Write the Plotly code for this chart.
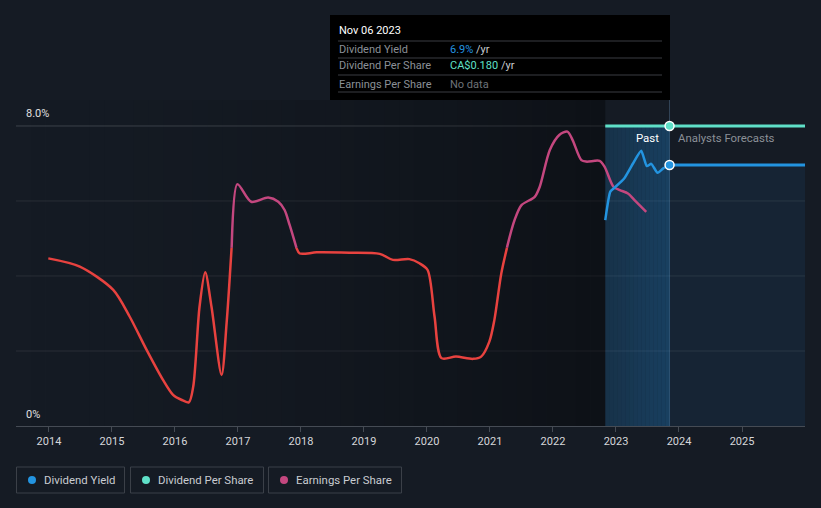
import plotly.graph_objects as go

# ---------------- data ----------------
years = [2014, 2015, 2016, 2017, 2018, 2019, 2020, 2021, 2022, 2023, 2024, 2025]
year_labels = [str(y) for y in years]

eps_x = [2013.99, 2014.49, 2015.02, 2015.28, 2015.55, 2015.81, 2015.97, 2016.10, 2016.22, 2016.29,
         2016.39, 2016.48, 2016.58, 2016.74, 2016.82, 2016.90, 2016.99, 2017.21, 2017.48, 2017.64,
         2017.74, 2017.82, 2017.93, 2017.98, 2018.25, 2018.77, 2019.25, 2019.46, 2019.72, 2019.88,
         2020.01, 2020.12, 2020.23, 2020.46, 2020.73, 2020.86, 2020.99, 2021.07, 2021.18, 2021.28,
         2021.39, 2021.50, 2021.71, 2021.79, 2021.95, 2022.10, 2022.23, 2022.31, 2022.45, 2022.53,
         2022.74, 2022.82, 2022.96, 2023.06, 2023.19, 2023.29, 2023.48]
eps_y = [4.47, 4.25, 3.63, 2.92, 2.03, 1.23, 0.83, 0.70, 0.63, 1.05,
         3.18, 4.10, 3.18, 1.36, 2.75, 4.78, 6.45, 5.98, 6.09, 5.98,
         5.76, 5.36, 4.74, 4.60, 4.63, 4.62, 4.59, 4.43, 4.45, 4.34,
         4.16, 2.92, 1.81, 1.85, 1.79, 1.85, 2.25, 2.83, 4.07, 4.83,
         5.49, 5.89, 6.11, 6.38, 7.36, 7.76, 7.85, 7.63, 7.09, 7.05,
         7.07, 6.91, 6.38, 6.29, 6.20, 6.03, 5.71]

div_x = [2022.83, 2022.91, 2022.98, 2023.13, 2023.27, 2023.40, 2023.49, 2023.56, 2023.66, 2023.75, 2023.85]
div_y = [5.49, 6.25, 6.36, 6.60, 7.00, 7.34, 6.93, 6.99, 6.75, 6.87, 6.96]

fc_x = [2023.85, 2026.0]
fc_y = [6.96, 6.96]

dps_x = [2022.83, 2023.85, 2026.0]
dps_y = [8.0, 8.0, 8.0]

past_start = 2022.83
now_x = 2023.85
eps_threshold = 4.75

# ---------------- styling ----------------
BG = "#151b24"
RED = "#e8423f"
MAG = "#c4477f"
BLUE = "#2394e0"
TEAL = "#5fe0c8"
X0, X1 = 2013.477, 2026.0
Y0, Y1 = 0, 8.693

# plot area in pixels
PL, PR, PT, PB = 16, 805, 100, 426


def px(X):
    return (X - PL) / (PR - PL)


def py(Y):
    return (PB - Y) / (PB - PT)


# split EPS into red (below threshold) and magenta (above) segments
red_x, red_y, mag_x, mag_y = [], [], [], []
for i in range(len(eps_x)):
    x, y = eps_x[i], eps_y[i]
    if i > 0:
        xp, yp = eps_x[i - 1], eps_y[i - 1]
        if (yp - eps_threshold) * (y - eps_threshold) < 0:
            t = (eps_threshold - yp) / (y - yp)
            xc = xp + t * (x - xp)
            red_x.append(xc); red_y.append(eps_threshold)
            mag_x.append(xc); mag_y.append(eps_threshold)
            if y > eps_threshold:
                red_x.append(None); red_y.append(None)
            else:
                mag_x.append(None); mag_y.append(None)
    if y <= eps_threshold:
        red_x.append(x); red_y.append(y)
    else:
        mag_x.append(x); mag_y.append(y)

fig = go.Figure()

# forecast fill under dividend yield
fig.add_trace(go.Scatter(x=fc_x, y=fc_y, mode="lines", line=dict(width=0),
                         fill="tozeroy", fillcolor="rgba(33,150,243,0.08)",
                         hoverinfo="skip", showlegend=False))

fig.add_trace(go.Scatter(x=red_x, y=red_y, mode="lines",
                         line=dict(color=RED, width=2.5, shape="spline", smoothing=0.8),
                         connectgaps=False, hoverinfo="skip", showlegend=False))
fig.add_trace(go.Scatter(x=mag_x, y=mag_y, mode="lines",
                         line=dict(color=MAG, width=2.5, shape="spline", smoothing=0.8),
                         connectgaps=False, hoverinfo="skip", showlegend=False))

fig.add_trace(go.Scatter(x=div_x, y=div_y, mode="lines",
                         line=dict(color=BLUE, width=2.5, shape="spline", smoothing=0.5),
                         hoverinfo="skip", showlegend=False))
fig.add_trace(go.Scatter(x=fc_x, y=fc_y, mode="lines",
                         line=dict(color=BLUE, width=3),
                         hoverinfo="skip", showlegend=False))
fig.add_trace(go.Scatter(x=dps_x, y=dps_y, mode="lines",
                         line=dict(color=TEAL, width=3),
                         hoverinfo="skip", showlegend=False))

# markers at current date
fig.add_trace(go.Scatter(x=[now_x], y=[dps_y[1]], mode="markers",
                         marker=dict(color=TEAL, size=9, line=dict(color="white", width=1.5)),
                         hoverinfo="skip", showlegend=False))
fig.add_trace(go.Scatter(x=[now_x], y=[div_y[-1]], mode="markers",
                         marker=dict(color=BLUE, size=9, line=dict(color="white", width=1.5)),
                         hoverinfo="skip", showlegend=False))

shapes = []
# background darkening gradient toward the past region
N = 40
for i in range(N):
    a = X0 + (past_start - X0) * i / N
    b = X0 + (past_start - X0) * (i + 1) / N
    op = 0.36 * ((i + 0.5) / N) ** 1.6
    shapes.append(dict(type="rect", xref="x", yref="y", x0=a, x1=b, y0=Y0, y1=Y1,
                       fillcolor=f"rgba(0,0,0,{op:.3f})", line=dict(width=0), layer="below"))
# past region gradient
M = 16
for i in range(M):
    a = past_start + (now_x - past_start) * i / M
    b = past_start + (now_x - past_start) * (i + 1) / M
    op = 0.20 + 0.13 * (i + 0.5) / M
    shapes.append(dict(type="rect", xref="x", yref="y", x0=a, x1=b, y0=0, y1=8.0,
                       fillcolor=f"rgba(33,140,220,{op:.3f})", line=dict(width=0), layer="below"))
# gridlines
for g in [2, 4, 6]:
    shapes.append(dict(type="line", xref="paper", yref="y", x0=0, x1=1, y0=g, y1=g,
                       line=dict(color="#2a2f37", width=1), layer="below"))
shapes.append(dict(type="line", xref="paper", yref="y", x0=0, x1=1, y0=8, y1=8,
                   line=dict(color="#3d424a", width=1), layer="below"))
# now vertical line
shapes.append(dict(type="line", xref="x", yref="paper", x0=now_x, x1=now_x, y0=0, y1=1,
                   line=dict(color="rgba(110,150,190,0.35)", width=1), layer="below"))

# tooltip box
shapes.append(dict(type="rect", xref="paper", yref="paper", x0=px(330), x1=px(670),
                   y0=py(100), y1=py(15), fillcolor="#000000", line=dict(width=0)))
for ly in [41, 58, 75, 92]:
    shapes.append(dict(type="line", xref="paper", yref="paper", x0=px(338), x1=px(662),
                       y0=py(ly), y1=py(ly), line=dict(color="#3a3d42", width=1)))

# legend boxes
legend_items = [("Dividend Yield", BLUE, 16, 125),
                ("Dividend Per Share", TEAL, 130, 264),
                ("Earnings Per Share", MAG, 268, 402)]
annotations = []
for name, col, l, r in legend_items:
    shapes.append(dict(type="rect", xref="paper", yref="paper", x0=px(l + 0.5), x1=px(r - 0.5),
                       y0=py(493), y1=py(467), fillcolor="rgba(0,0,0,0)",
                       line=dict(color="#3b4048", width=1)))
    shapes.append(dict(type="circle", xref="paper", yref="paper",
                       x0=px(l + 12), x1=px(l + 20), y0=py(484), y1=py(476),
                       fillcolor=col, line=dict(width=0)))
    annotations.append(dict(xref="paper", yref="paper", x=px(l + 26), y=py(480),
                            text=name, showarrow=False, xanchor="left", yanchor="middle",
                            font=dict(size=11.4, color="#c9ccd1")))

# y labels
annotations.append(dict(xref="paper", yref="paper", x=px(24), y=py(114), text="8.0%",
                        showarrow=False, xanchor="left", yanchor="middle",
                        font=dict(size=11, color="#e0e0e0")))
annotations.append(dict(xref="paper", yref="paper", x=px(24), y=py(414), text="0%",
                        showarrow=False, xanchor="left", yanchor="middle",
                        font=dict(size=11, color="#e0e0e0")))

# Past / forecasts labels
annotations.append(dict(xref="paper", yref="paper", x=px(661), y=py(138), text="Past",
                        showarrow=False, xanchor="right", yanchor="middle",
                        font=dict(size=11.4, color="#ffffff")))
annotations.append(dict(xref="paper", yref="paper", x=px(676), y=py(138), text="Analysts Forecasts",
                        showarrow=False, xanchor="left", yanchor="middle",
                        font=dict(size=11.4, color="#8b9097")))

# tooltip text
annotations.append(dict(xref="paper", yref="paper", x=px(337), y=py(31), text="Nov 06 2023",
                        showarrow=False, xanchor="left", yanchor="middle",
                        font=dict(size=11, color="#ffffff")))
rows = [("Dividend Yield", "<span style='color:#2394e0'>6.9%</span> /yr", 49),
        ("Dividend Per Share", "<span style='color:#5fe0c8'>CA$0.180</span> /yr", 66),
        ("Earnings Per Share", "<span style='color:#6e7379'>No data</span>", 84)]
for lab, val, yy in rows:
    annotations.append(dict(xref="paper", yref="paper", x=px(337), y=py(yy), text=lab,
                            showarrow=False, xanchor="left", yanchor="middle",
                            font=dict(size=11, color="#8b9097")))
    annotations.append(dict(xref="paper", yref="paper", x=px(448), y=py(yy), text=val,
                            showarrow=False, xanchor="left", yanchor="middle",
                            font=dict(size=11, color="#c9ccd1")))

fig.update_layout(
    width=821, height=508,
    margin=dict(l=PL, r=821 - PR, t=PT, b=508 - PB),
    paper_bgcolor=BG, plot_bgcolor=BG,
    font=dict(family="Roboto, sans-serif", color="#c9ccd1"),
    showlegend=False,
    shapes=shapes,
    annotations=annotations,
    xaxis=dict(range=[X0, X1], tickvals=years, ticktext=year_labels,
               showgrid=False, zeroline=False, showline=True, linecolor="#454b54",
               linewidth=1, ticks="outside", ticklen=5, tickcolor="#454b54",
               tickfont=dict(size=11, color="#d5d7da"), fixedrange=True),
    yaxis=dict(range=[Y0, Y1], showgrid=False, zeroline=False, showticklabels=False,
               fixedrange=True),
)

fig.write_html("out.html")
